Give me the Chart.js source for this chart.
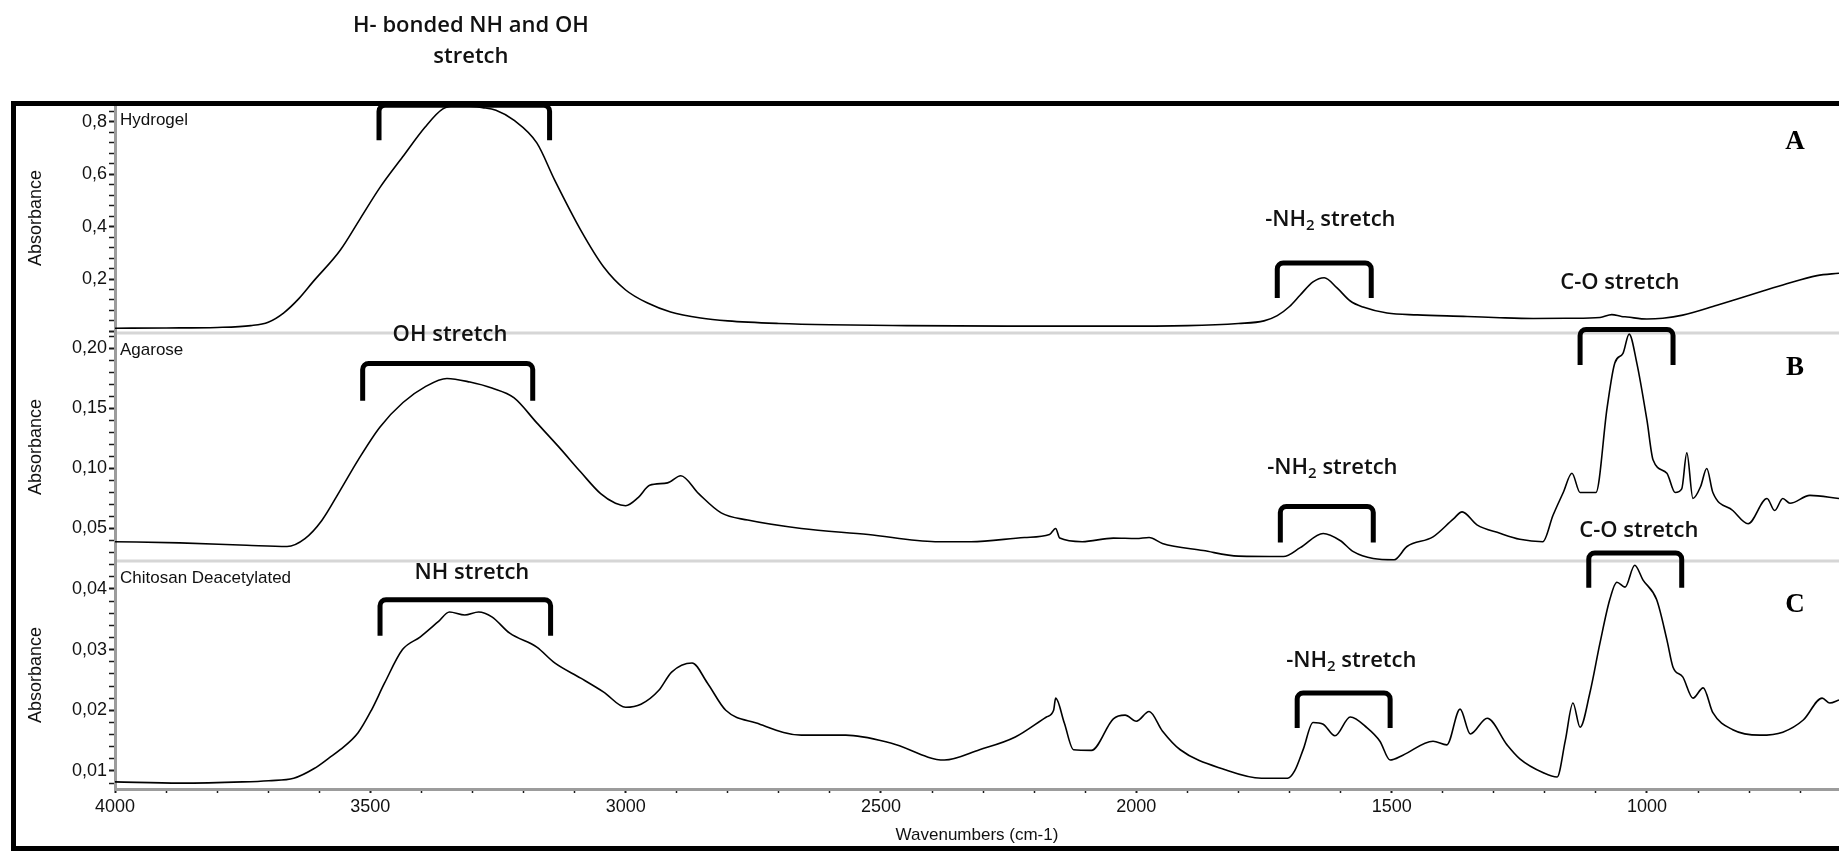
<!DOCTYPE html>
<html>
<head>
<meta charset="utf-8">
<script src="https://cdn.jsdelivr.net/npm/chart.js@4.4.1/dist/chart.umd.min.js"></script>
<style>
  html, body { margin: 0; padding: 0; background: #fff; }
  canvas { display: block; }
</style>
</head>
<body>
<canvas id="ftir" width="1839" height="851"></canvas>
<script>
// spectra: wavenumber (cm-1) / absorbance
const hydrogelWn = [4000, 3900, 3800, 3734, 3700, 3670, 3640, 3612, 3559, 3520, 3481, 3437, 3393, 3358, 3330,
  3305, 3280, 3254, 3219, 3174, 3139, 3088, 3043, 3000, 2957, 2912, 2853, 2800, 2700, 2600, 2450, 2250, 2050,
  1900, 1800, 1750, 1724, 1700, 1679, 1654, 1632, 1607, 1581, 1556, 1509, 1450, 1352, 1288, 1223, 1150, 1092,
  1069, 1050, 1039, 1000, 969, 930, 863, 798, 734, 667, 624];
const hydrogelAbs = [0.012, 0.013, 0.015, 0.022, 0.035, 0.07, 0.125, 0.19, 0.31, 0.43, 0.55, 0.666, 0.78, 0.85, 0.862,
  0.86, 0.855, 0.845, 0.807, 0.72, 0.578, 0.387, 0.246, 0.158, 0.108, 0.074, 0.051, 0.04, 0.03, 0.025, 0.022, 0.02, 0.02,
  0.022, 0.03, 0.04, 0.06, 0.095, 0.139, 0.189, 0.205, 0.166, 0.116, 0.093, 0.07, 0.063, 0.057, 0.052, 0.049, 0.05, 0.053,
  0.064, 0.057, 0.055, 0.047, 0.05, 0.062, 0.1, 0.139, 0.177, 0.213, 0.222];

const agaroseWn = [4000, 3873, 3742, 3663, 3628, 3595, 3559, 3524, 3481, 3436, 3393, 3350, 3305, 3262, 3219,
  3174, 3131, 3088, 3049, 3020, 3000, 2975, 2953, 2918, 2892, 2857, 2813, 2761, 2656, 2525, 2394, 2324, 2219,
  2170, 2158, 2150, 2106, 2045, 2000, 1975, 1949, 1869, 1800, 1712, 1679, 1634, 1601, 1575, 1536, 1495, 1470,
  1419, 1379, 1362, 1333, 1288, 1249, 1204, 1184, 1164, 1147, 1131, 1100, 1078, 1063, 1047, 1035, 1020, 1000,
  988, 961, 945, 932, 922, 910, 895, 883, 871, 832, 802, 765, 750, 734, 720, 681, 624];
const agaroseAbs = [0.039, 0.038, 0.036, 0.035, 0.0416, 0.0567, 0.0818, 0.107, 0.1346, 0.155, 0.168, 0.175, 0.172, 0.167, 0.159,
  0.138, 0.118, 0.097, 0.079, 0.071, 0.069, 0.076, 0.086, 0.088, 0.094, 0.079, 0.063, 0.057, 0.05, 0.045, 0.039, 0.039, 0.0425,
  0.045, 0.05, 0.042, 0.039, 0.042, 0.0416, 0.0425, 0.0375, 0.0316, 0.027, 0.0266, 0.034, 0.0458, 0.04, 0.0307, 0.025, 0.024, 0.035,
  0.043, 0.058, 0.0638, 0.053, 0.046, 0.041, 0.039, 0.061, 0.08, 0.096, 0.08, 0.08, 0.151, 0.188, 0.196, 0.212, 0.188, 0.14,
  0.107, 0.096, 0.08, 0.083, 0.113, 0.075, 0.085, 0.1, 0.08, 0.065, 0.054, 0.075, 0.065, 0.075, 0.071, 0.0776, 0.075];

const chitosanWn = [4000, 3873, 3750, 3699, 3650, 3610, 3580, 3559, 3524, 3498, 3472, 3437, 3402, 3367, 3345, 3315,
  3288, 3262, 3227, 3174, 3139, 3088, 3043, 3000, 2970, 2935, 2910, 2870, 2840, 2804, 2744, 2656, 2569, 2481,
  2376, 2307, 2237, 2176, 2162, 2158, 2141, 2123, 2088, 2045, 2022, 2000, 1975, 1949, 1914, 1826, 1755, 1704,
  1690, 1673, 1654, 1634, 1611, 1581, 1548, 1523, 1503, 1478, 1419, 1392, 1366, 1346, 1313, 1274, 1249, 1203,
  1176, 1160, 1145, 1131, 1112, 1092, 1073, 1059, 1043, 1024, 1008, 981, 961, 949, 930, 910, 890, 871, 832,
  779, 734, 694, 657, 642, 624];
const chitosanAbs = [0.0082, 0.008, 0.0082, 0.0084, 0.0088, 0.0104, 0.0122, 0.0135, 0.0163, 0.02, 0.0245, 0.03, 0.0321, 0.0346, 0.0362, 0.0357,
  0.0362, 0.0354, 0.0327, 0.0304, 0.0278, 0.0253, 0.023, 0.0205, 0.021, 0.0233, 0.0263, 0.0278, 0.0245, 0.02, 0.0179, 0.0159, 0.0159, 0.0146,
  0.0118, 0.0135, 0.0156, 0.0189, 0.02, 0.022, 0.0179, 0.0135, 0.0134, 0.0186, 0.0192, 0.0182, 0.0198, 0.0166, 0.0135, 0.0102, 0.0088, 0.0088,
  0.01, 0.0136, 0.018, 0.0177, 0.0158, 0.0189, 0.0171, 0.0149, 0.0118, 0.0126, 0.0149, 0.0143, 0.0202, 0.0161, 0.0187, 0.0143, 0.012, 0.0097,
  0.009, 0.015, 0.0212, 0.0172, 0.0228, 0.0311, 0.0382, 0.0411, 0.0403, 0.0439, 0.0415, 0.0382, 0.0316, 0.0271, 0.0255, 0.022, 0.0237, 0.0196, 0.0168,
  0.0159, 0.0164, 0.0184, 0.022, 0.0212, 0.0217];

const panelNames = ["Hydrogel", "Agarose", "Chitosan Deacetylated"];
const panelLetters = ["A", "B", "C"];

// band annotations: bracket ends in cm-1, heights in the panel's absorbance
const brackets = [
  { axis: "yA", from: 3483, to: 3149, top: 0.864, bottom: 0.73 },
  { axis: "yB", from: 3515, to: 3182, top: 0.1874, bottom: 0.1564 },
  { axis: "yC", from: 3481, to: 3147, top: 0.0382, bottom: 0.0323 },
  { axis: "yA", from: 1724, to: 1540, top: 0.261, bottom: 0.127 },
  { axis: "yB", from: 1718, to: 1536, top: 0.0684, bottom: 0.0383 },
  { axis: "yC", from: 1685, to: 1503, top: 0.02285, bottom: 0.01708 },
  { axis: "yB", from: 1131, to: 949, top: 0.2159, bottom: 0.1863 },
  { axis: "yC", from: 1114, to: 932, top: 0.0459, bottom: 0.0402 },
];
const bandLabels = [
  { axis: "yA", wn: 3303, at: 1.166, text: "H- bonded NH and OH" },
  { axis: "yA", wn: 3303, at: 1.048, text: "stretch" },
  { axis: "yB", wn: 3344, at: 0.2113, text: "OH stretch" },
  { axis: "yC", wn: 3301, at: 0.04264, text: "NH stretch" },
  { axis: "yA", wn: 1620, at: 0.426, text: "-NH2 stretch" },
  { axis: "yB", wn: 1616, at: 0.1004, text: "-NH2 stretch" },
  { axis: "yC", wn: 1579, at: 0.02813, text: "-NH2 stretch" },
  { axis: "yA", wn: 1053, at: 0.1847, text: "C-O stretch" },
  { axis: "yC", wn: 1016, at: 0.04956, text: "C-O stretch" },
];
const letterPos = [
  { axis: "yA", wn: 710, at: 0.7235 },
  { axis: "yB", wn: 710, at: 0.1838 },
  { axis: "yC", wn: 710, at: 0.03736 },
];

const axisFont = { family: "'Liberation Sans', Arial, sans-serif", size: 18 };
const noteFont = "'Open Sans', sans-serif";

const toPoints = (wn, abs) => wn.map((w, i) => ({ x: w, y: abs[i] }));

// minor ticks every step, every fifth one is labelled
function tickList(min, max, step) {
  const out = [];
  for (let i = Math.ceil(min / step - 1e-9); i * step <= max + 1e-9; i++) {
    out.push({ value: +(i * step).toFixed(6), major: i % 5 === 0 });
  }
  return out;
}

function yAxis(min, max, step, digits, weight) {
  return {
    type: "linear",
    position: "left",
    stack: "spectra",
    stackWeight: weight,
    min: min,
    max: max,
    afterBuildTicks: (scale) => { scale.ticks = tickList(min, max, step); },
    afterFit: (scale) => { scale.width = 115; },
    border: { color: "#9c9c9c", width: 3 },
    grid: {
      drawOnChartArea: false,
      tickLength: 6,
      tickColor: "#1a1a1a",
      tickWidth: (c) => (c.tick && c.tick.major ? 2 : 1.5),
    },
    ticks: {
      autoSkip: false,
      padding: 2,
      color: "#111",
      font: axisFont,
      callback: (v, i, ticks) => (ticks[i].major && v > 0 ? v.toFixed(digits).replace(".", ",") : ""),
    },
    title: { display: true, text: "Absorbance", color: "#111", font: axisFont, padding: { top: 25, bottom: 0 } },
  };
}

function drawNote(ctx, text, cx, cy) {
  const parts = text.includes("NH2") ? [["-NH", false], ["2", true], [" stretch", false]] : [[text, false]];
  const big = "600 22px " + noteFont;
  const small = "600 15px " + noteFont;
  let w = 0;
  parts.forEach(([t, sub]) => { ctx.font = sub ? small : big; w += ctx.measureText(t).width; });
  let x = cx - w / 2;
  parts.forEach(([t, sub]) => {
    ctx.font = sub ? small : big;
    ctx.fillText(t, x, sub ? cy + 6 : cy);
    x += ctx.measureText(t).width;
  });
}

const decorations = {
  id: "decorations",
  beforeDatasetsDraw(chart) {
    const { ctx, chartArea, scales } = chart;
    ctx.save();
    ctx.strokeStyle = "#d6d6d6";
    ctx.lineWidth = 3;
    [scales.yB.top, scales.yC.top].forEach((y) => {
      ctx.beginPath();
      ctx.moveTo(chartArea.left + 2, y);
      ctx.lineTo(chartArea.right, y);
      ctx.stroke();
    });
    ctx.fillStyle = "#111";
    ctx.font = "17px " + axisFont.family;
    ctx.textAlign = "left";
    ctx.textBaseline = "middle";
    ["yA", "yB", "yC"].forEach((id, i) => {
      ctx.fillText(panelNames[i], chartArea.left + 5, scales[id].top + 17);
    });
    ctx.restore();
  },
  afterDraw(chart) {
    const { ctx, scales } = chart;
    const x = scales.x;
    ctx.save();
    ctx.strokeStyle = "#000";
    ctx.lineWidth = 5;
    ctx.lineJoin = "round";
    brackets.forEach((b) => {
      const y = scales[b.axis];
      const x1 = x.getPixelForValue(b.from), x2 = x.getPixelForValue(b.to);
      const yt = y.getPixelForValue(b.top), yb = y.getPixelForValue(b.bottom);
      ctx.beginPath();
      ctx.moveTo(x1, yb);
      ctx.arcTo(x1, yt, x2, yt, 6);
      ctx.arcTo(x2, yt, x2, yb, 6);
      ctx.lineTo(x2, yb);
      ctx.stroke();
    });
    ctx.fillStyle = "#111";
    ctx.textAlign = "left";
    ctx.textBaseline = "middle";
    bandLabels.forEach((l) => {
      drawNote(ctx, l.text, x.getPixelForValue(l.wn), scales[l.axis].getPixelForValue(l.at));
    });
    ctx.fillStyle = "#000";
    ctx.font = "bold 27px 'Liberation Serif', serif";
    ctx.textAlign = "center";
    letterPos.forEach((p, i) => {
      ctx.fillText(panelLetters[i], x.getPixelForValue(p.wn), scales[p.axis].getPixelForValue(p.at));
    });
    // outer frame, open to the right like the cropped original
    ctx.lineWidth = 5;
    ctx.lineJoin = "miter";
    ctx.strokeRect(13.5, 103.5, 1900, 745);
    ctx.restore();
  },
};

const lineStyle = {
  borderColor: "#000",
  borderWidth: 1.6,
  pointRadius: 0,
  fill: false,
  cubicInterpolationMode: "monotone",
};

new Chart(document.getElementById("ftir"), {
  type: "line",
  data: {
    datasets: [
      { label: panelNames[0], data: toPoints(hydrogelWn, hydrogelAbs), yAxisID: "yA", ...lineStyle },
      { label: panelNames[1], data: toPoints(agaroseWn, agaroseAbs), yAxisID: "yB", ...lineStyle },
      { label: panelNames[2], data: toPoints(chitosanWn, chitosanAbs), yAxisID: "yC", ...lineStyle },
    ],
  },
  options: {
    responsive: false,
    animation: false,
    events: [],
    layout: { padding: { top: 103, left: 0, right: 0, bottom: 0 } },
    plugins: { legend: { display: false }, tooltip: { enabled: false } },
    scales: {
      x: {
        type: "linear",
        reverse: true,
        min: 624,
        max: 4000,
        afterBuildTicks: (scale) => { scale.ticks = tickList(624, 4000, 100); },
        afterFit: (scale) => { scale.height = 62; },
        border: { color: "#9c9c9c", width: 3 },
        grid: {
          drawOnChartArea: false,
          tickLength: 4,
          tickColor: "#1a1a1a",
          tickWidth: (c) => (c.tick && c.tick.major ? 2 : 1.5),
        },
        ticks: {
          autoSkip: false,
          maxRotation: 0,
          padding: 3,
          color: "#111",
          font: axisFont,
          callback: (v, i, ticks) => (ticks[i].major ? String(v) : ""),
        },
        title: { display: true, text: "Wavenumbers (cm-1)", color: "#111", font: { ...axisFont, size: 17 }, padding: { top: 0, bottom: 5 } },
      },
      yC: yAxis(0.00703, 0.0446, 0.002, 2, 228),
      yB: yAxis(0.0229, 0.2129, 0.01, 2, 228),
      yA: yAxis(-0.0063, 0.8726, 0.04, 1, 230),
    },
  },
  plugins: [decorations],
});
</script>
</body>
</html>
